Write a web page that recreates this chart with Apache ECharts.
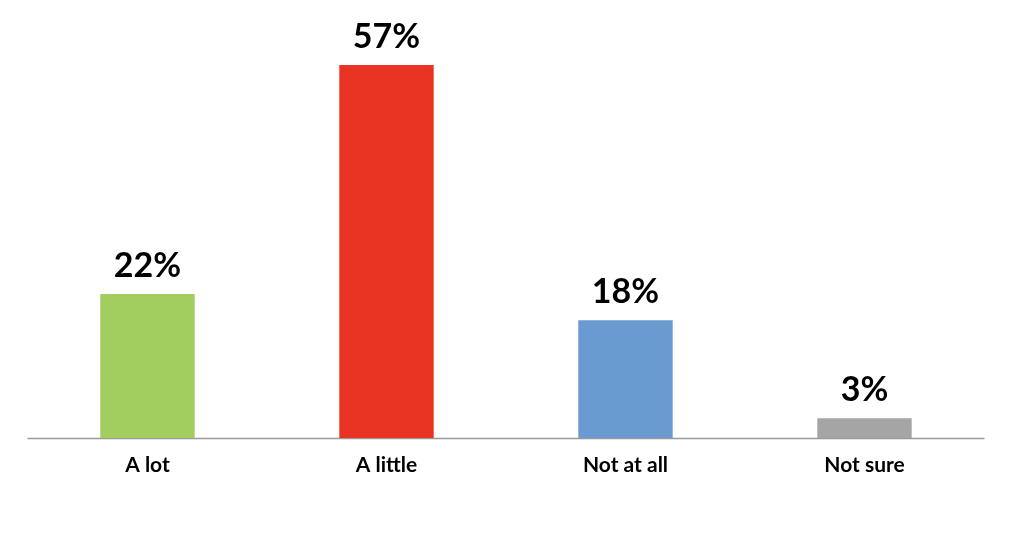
<!DOCTYPE html>
<html><head><meta charset="utf-8">
<script src="https://cdn.jsdelivr.net/npm/echarts@6/dist/echarts.min.js"></script>
<style>html,body{margin:0;padding:0;background:#fff}#c{width:1024px;height:554px}</style>
</head><body><div id="c"></div>
<script>
const categories = ["A lot", "A little", "Not at all", "Not sure"];
const values = [22, 57, 18, 3];
const colors = ["#A2CE5F", "#E93424", "#6A9BD0", "#A5A5A5"];

const chart = echarts.init(document.getElementById('c'));
chart.setOption({
  animation: false,
  backgroundColor: '#fff',
  grid: { left: 28, right: 40, top: 45.4, bottom: 116, containLabel: false },
  xAxis: {
    type: 'category', data: categories,
    axisLine: { lineStyle: { color: '#999', width: 1.3 } },
    axisTick: { show: false },
    axisLabel: { color: '#000', fontFamily: 'Lato', fontWeight: 'bold', fontSize: 21, margin: 17 }
  },
  yAxis: { type: 'value', min: 0, max: 60, show: false, splitLine: { show: false } },
  series: [{
    type: 'bar', barWidth: '39.5%',
    data: values.map((v, i) => ({ value: v, itemStyle: { color: colors[i] } })),
    label: { show: true, position: 'top', distance: 11, formatter: '{c}%', color: '#000',
      fontFamily: 'Lato', fontWeight: 'bold', fontSize: 34 }
  }]
});
</script></body></html>
